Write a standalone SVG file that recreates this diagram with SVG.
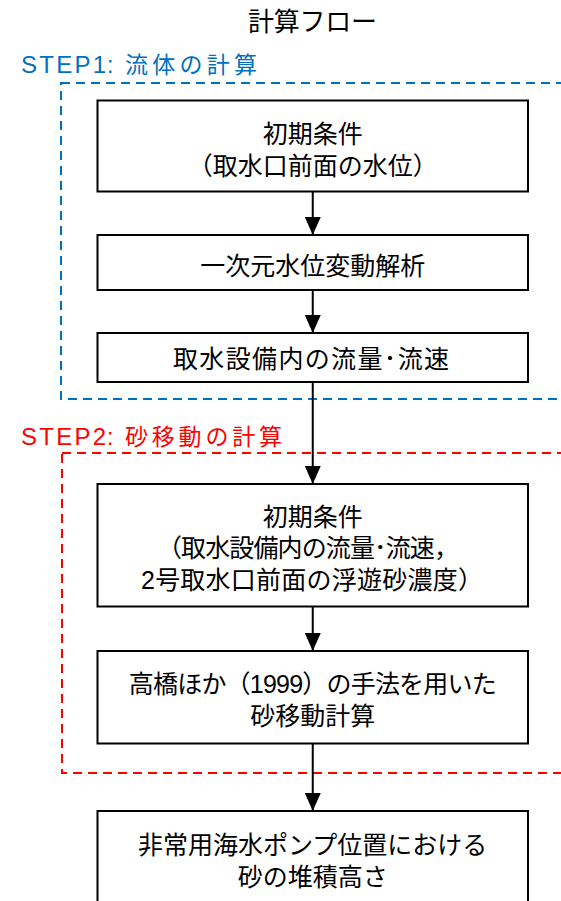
<svg xmlns="http://www.w3.org/2000/svg" width="561" height="901" viewBox="0 0 561 901">
<style>
text{font-family:"Liberation Sans","Noto Sans CJK JP",sans-serif;}
.t{font-size:25px;fill:#000;text-anchor:middle;}
.title{font-size:26px;fill:#000;text-anchor:middle;}
.step{font-size:23px;}
.box{fill:#fff;stroke:#000;stroke-width:2;}
.frame{fill:none;stroke-width:2;stroke-dasharray:9,6;}
.conn{stroke:#000;stroke-width:2;fill:none;}
</style>
<defs>
<marker id="ah" markerUnits="userSpaceOnUse" markerWidth="18" markerHeight="16" viewBox="0 0 18 16" refX="18" refY="8" orient="auto">
<path d="M0,0 L18,8 L0,16 Z" fill="#000"/>
</marker>
</defs>
<rect width="561" height="901" fill="#fff"/>
<text class="title" x="312.5" y="31" textLength="129">計算フロー</text>

<g id="step1">
<rect class="frame" x="61" y="83" width="540" height="316" stroke="#0070C0"/>
<text class="step" y="73" fill="#0070C0"><tspan x="21" font-size="24" textLength="85">STEP1</tspan><tspan x="107">:</tspan><tspan x="125" textLength="132">流体の計算</tspan></text>
</g>
<g id="step2">
<rect class="frame" x="62" y="453" width="540" height="320" stroke="#FF0000"/>
<text class="step" y="445" fill="#FF0000"><tspan x="21" font-size="24" textLength="85">STEP2</tspan><tspan x="107">:</tspan><tspan x="125" textLength="157">砂移動の計算</tspan></text>
</g>

<g id="n1">
<rect class="box" x="97.5" y="100.5" width="430.5" height="91"/>
<text class="t" x="312.75" y="143">初期条件</text>
<text class="t" x="312.75" y="175">（取水口前面の水位）</text>
</g>
<g id="n2">
<rect class="box" x="97.5" y="235" width="430.5" height="55"/>
<text class="t" x="312.75" y="275">一次元水位変動解析</text>
</g>
<g id="n3">
<rect class="box" x="97.5" y="333" width="430.5" height="49"/>
<text class="t" x="311" y="368" textLength="276">取水設備内の流量･流速</text>
</g>
<g id="n4">
<rect class="box" x="97.5" y="484" width="430.5" height="122.5"/>
<text class="t" x="312.75" y="526">初期条件</text>
<text class="t" x="308" y="557" textLength="302">（取水設備内の流量･流速，</text>
<text class="t" x="312" y="589" textLength="342">2号取水口前面の浮遊砂濃度）</text>
</g>
<g id="n5">
<rect class="box" x="97.5" y="651" width="430.5" height="92.5"/>
<text class="t" x="312.75" y="693" textLength="368">高橋ほか（1999）の手法を用いた</text>
<text class="t" x="312.75" y="725">砂移動計算</text>
</g>
<g id="n6">
<rect class="box" x="97.5" y="811" width="430.5" height="110"/>
<text class="t" x="312.75" y="854">非常用海水ポンプ位置における</text>
<text class="t" x="312.75" y="886">砂の堆積高さ</text>
</g>

<g id="connectors">
<line class="conn" x1="312.75" y1="191.5" x2="312.75" y2="235" marker-end="url(#ah)"/>
<line class="conn" x1="312.75" y1="290" x2="312.75" y2="333" marker-end="url(#ah)"/>
<line class="conn" x1="312.75" y1="382" x2="312.75" y2="484" marker-end="url(#ah)"/>
<line class="conn" x1="312.75" y1="606.5" x2="312.75" y2="651" marker-end="url(#ah)"/>
<line class="conn" x1="312.75" y1="743.5" x2="312.75" y2="811" marker-end="url(#ah)"/>
</g>
</svg>
